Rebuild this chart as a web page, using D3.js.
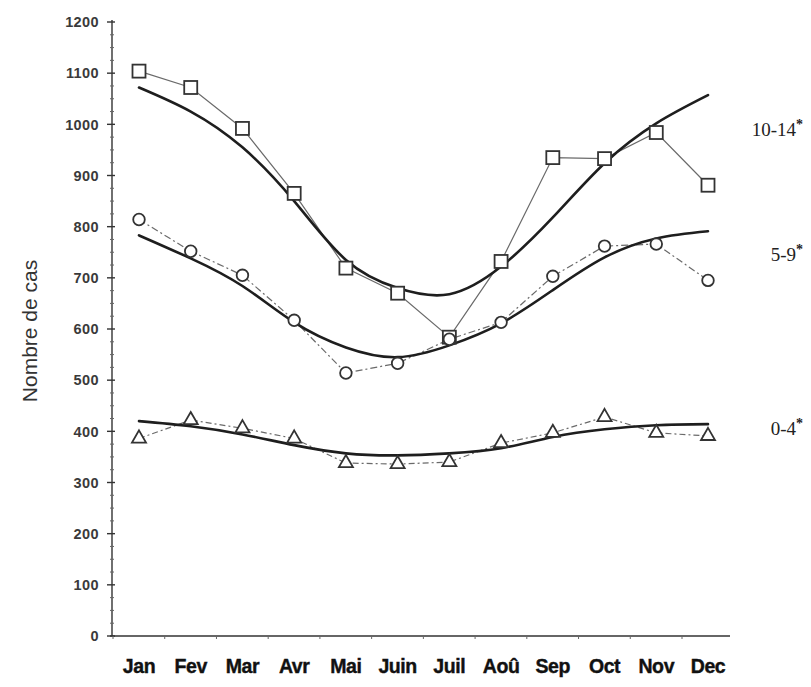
<!DOCTYPE html>
<html>
<head>
<meta charset="utf-8">
<script src="https://cdn.jsdelivr.net/npm/d3@7"></script>
<style>
  html, body { margin: 0; padding: 0; background: #fff; }
  svg { display: block; }
</style>
</head>
<body>
<svg id="chart" width="811" height="687"></svg>
<script>
// Months of the year
const months = ["Jan", "Fev", "Mar", "Avr", "Mai", "Juin", "Juil", "Aoû", "Sep", "Oct", "Nov", "Dec"];

// Observed monthly case counts per age group
const obs1014 = [1104, 1072, 992, 865, 719, 670, 584, 732, 935, 933, 984, 881];
const obs59   = [814, 752, 705, 617, 514, 533, 580, 613, 703, 762, 766, 695];
const obs04   = [386, 422, 406, 386, 338, 336, 340, 377, 397, 428, 397, 391];

// Fitted seasonal curves per age group
const fit1014 = [1072, 1025, 955, 850, 735, 680, 668, 722, 818, 924, 1002, 1057];
const fit59   = [783, 738, 684, 613, 564, 545, 568, 611, 676, 740, 777, 791];
const fit04   = [420, 410, 394, 373, 357, 353, 357, 367, 389, 404, 412, 414];

// Group labels and axis ticks
const groupLabels = ["10-14", "5-9", "0-4"];
const yTicks = [0, 100, 200, 300, 400, 500, 600, 700, 800, 900, 1000, 1100, 1200];
const yTitle = "Nombre de cas";

const svg = d3.select("#chart");

const x = d3.scalePoint().domain(months).range([139, 708]);
const y = d3.scaleLinear().domain([0, 1200]).range([636, 22]);

const axisColor = "#333";

// Y axis
const yAxis = svg.append("g").attr("transform", "translate(112,0)");
yAxis.append("line")
  .attr("x1", 0).attr("x2", 0)
  .attr("y1", y(1200) - 2).attr("y2", y(0))
  .attr("stroke", axisColor).attr("stroke-width", 1.4);
yAxis.selectAll("line.major").data(yTicks).enter().append("line")
  .attr("class", "major")
  .attr("x1", -5).attr("x2", 3)
  .attr("y1", d => y(d)).attr("y2", d => y(d))
  .attr("stroke", axisColor).attr("stroke-width", 1.4);
yAxis.selectAll("line.minor").data(d3.range(0, 1200, 25).filter(v => v % 100 !== 0)).enter().append("line")
  .attr("class", "minor")
  .attr("x1", -2).attr("x2", 2)
  .attr("y1", d => y(d)).attr("y2", d => y(d))
  .attr("stroke", "#666").attr("stroke-width", 1);
yAxis.selectAll("text").data(yTicks).enter().append("text")
  .attr("x", -13).attr("y", d => y(d))
  .attr("dy", "0.36em")
  .attr("text-anchor", "end")
  .attr("font-family", "'Liberation Sans', Arial, sans-serif")
  .attr("font-size", 14.5)
  .attr("font-weight", "bold")
  .attr("letter-spacing", 0.4)
  .attr("fill", "#3a3a3a")
  .text(d => d);

// Y title
svg.append("text")
  .attr("transform", `translate(37,${y(600) + 2}) rotate(-90)`)
  .attr("text-anchor", "middle")
  .attr("font-family", "'Liberation Sans', Arial, sans-serif")
  .attr("font-size", 21)
  .attr("fill", "#333")
  .text(yTitle);

// X axis
const xAxis = svg.append("g");
xAxis.append("line")
  .attr("x1", 110).attr("x2", 730)
  .attr("y1", y(0)).attr("y2", y(0))
  .attr("stroke", axisColor).attr("stroke-width", 1.4);
xAxis.selectAll("line.tick").data(months).enter().append("line")
  .attr("class", "tick")
  .attr("x1", d => x(d) - 26).attr("x2", d => x(d) - 26)
  .attr("y1", y(0)).attr("y2", y(0) + 3)
  .attr("stroke", "#666").attr("stroke-width", 1);
xAxis.selectAll("text").data(months).enter().append("text")
  .attr("x", d => x(d)).attr("y", 673)
  .attr("text-anchor", "middle")
  .attr("font-family", "'Liberation Sans', Arial, sans-serif")
  .attr("font-size", 19.5)
  .attr("font-weight", "bold")
  .attr("letter-spacing", -0.4)
  .attr("stroke", "#111")
  .attr("stroke-width", 0.4)
  .attr("fill", "#111")
  .text(d => d);

const obsLine = d3.line().x((d, i) => x(months[i])).y(d => y(d));
const fitLine = d3.line().x((d, i) => x(months[i])).y(d => y(d)).curve(d3.curveNatural);

// Observed series connectors
const connectors = [
  { data: obs1014, dash: null },
  { data: obs59, dash: "7,3,2,3" },
  { data: obs04, dash: "6,3,2,3" }
];
connectors.forEach(c => {
  svg.append("path")
    .datum(c.data)
    .attr("d", obsLine)
    .attr("fill", "none")
    .attr("stroke", "#6a6a6a")
    .attr("stroke-width", 1.2)
    .attr("stroke-dasharray", c.dash);
});

// Fitted curves
[fit1014, fit59, fit04].forEach(f => {
  svg.append("path")
    .datum(f)
    .attr("d", fitLine)
    .attr("fill", "none")
    .attr("stroke", "#1e1e1e")
    .attr("stroke-width", 2.6)
    .attr("stroke-linecap", "round");
});

// Markers
const markerStroke = "#333";
svg.append("g").selectAll("rect").data(obs1014).enter().append("rect")
  .attr("x", (d, i) => x(months[i]) - 6.5)
  .attr("y", d => y(d) - 6.5)
  .attr("width", 13).attr("height", 13)
  .attr("fill", "#fff").attr("stroke", markerStroke).attr("stroke-width", 1.8);

svg.append("g").selectAll("circle").data(obs59).enter().append("circle")
  .attr("cx", (d, i) => x(months[i]))
  .attr("cy", d => y(d))
  .attr("r", 5.8)
  .attr("fill", "#fff").attr("stroke", markerStroke).attr("stroke-width", 1.8);

const tri = d3.symbol().type(d3.symbolTriangle).size(85);
svg.append("g").selectAll("path").data(obs04).enter().append("path")
  .attr("d", tri)
  .attr("transform", (d, i) => `translate(${x(months[i])},${y(d)})`)
  .attr("fill", "#fff").attr("stroke", markerStroke).attr("stroke-width", 1.8);

// Group labels
const labelY = [y(1000) + 12, y(750) + 9, y(400) + 4];
groupLabels.forEach((g, i) => {
  const t = svg.append("text")
    .attr("x", 803).attr("y", labelY[i])
    .attr("text-anchor", "end")
    .attr("font-family", "'Liberation Serif', 'Times New Roman', serif")
    .attr("font-size", 19)
    .attr("fill", "#222");
  t.append("tspan").text(g);
  t.append("tspan")
    .attr("dy", -7)
    .attr("font-size", 14)
    .attr("font-weight", "bold")
    .text("*");
});
</script>
</body>
</html>
